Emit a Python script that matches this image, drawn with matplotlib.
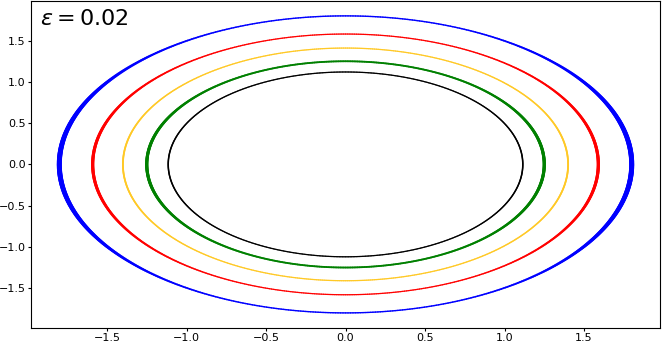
import numpy as np
import matplotlib
matplotlib.use('Agg')
import matplotlib.pyplot as plt
from matplotlib.collections import LineCollection

# radii of the orbits (x half-width, y half-height)
radius_x = [1.80, 1.59, 1.40, 1.25, 1.115]
radius_y = [1.80, 1.58, 1.41, 1.25, 1.12]
colors = ['#0000ff', '#ff0000', '#ffc926', '#008000', '#000000']
# line width at the sides and at top/bottom (points)
lw_side = [3.6, 2.3, 1.3, 2.3, 1.1]
lw_top = [1.0, 0.9, 0.9, 1.3, 0.9]
label = r'$\varepsilon = 0.02$'

fig, ax = plt.subplots(figsize=(6.67, 3.45), dpi=100)
fig.subplots_adjust(left=0.046, right=0.99, top=0.997, bottom=0.05)

t = np.linspace(0, 2 * np.pi, 721)
for rx, ry, c, ws, wt in zip(radius_x, radius_y, colors, lw_side, lw_top):
    x = rx * np.cos(t)
    y = ry * np.sin(t)
    pts = np.column_stack([x, y]).reshape(-1, 1, 2)
    segs = np.concatenate([pts[:-1], pts[1:]], axis=1)
    tm = 0.5 * (t[:-1] + t[1:])
    widths = wt + (ws - wt) * np.cos(tm) ** 4
    lc = LineCollection(segs, colors=c, linewidths=widths, capstyle='round')
    ax.add_collection(lc)
    # invisible line so autoscaling picks up the data limits
    ax.plot(x, y, alpha=0)

ax.autoscale()
ax.tick_params(labelsize=8, length=2.5, pad=1)
ax.text(0.015, 0.975, label, transform=ax.transAxes, fontsize=16,
        ha='left', va='top')

fig.savefig('out.png', dpi=100)
